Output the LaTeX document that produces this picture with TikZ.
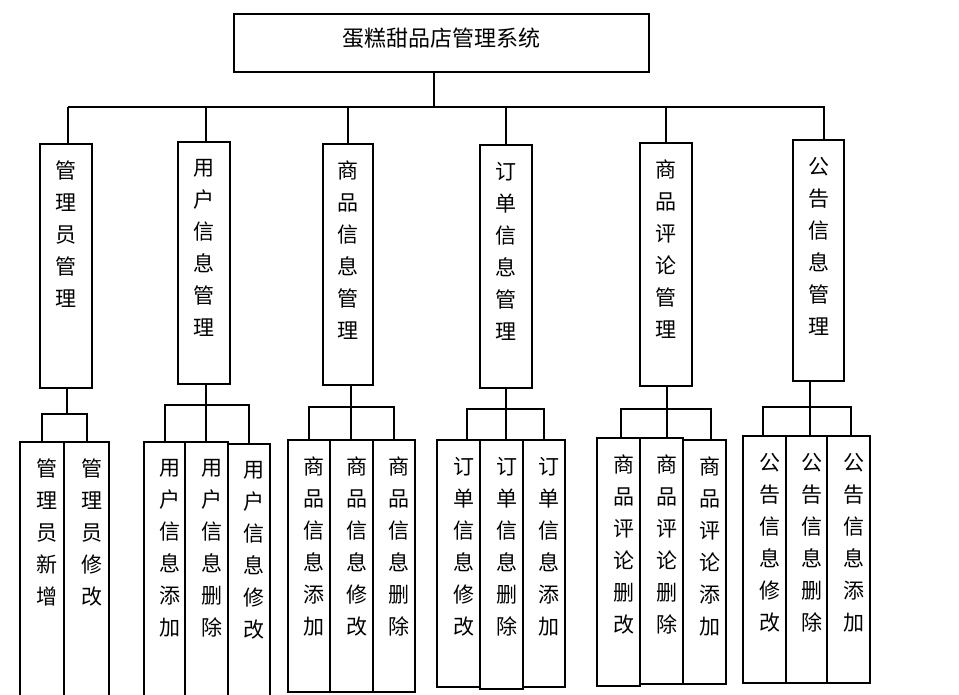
\documentclass[tikz,border=0pt]{standalone}
\usepackage{fontspec}
\newfontfamily\cjk{Noto Sans CJK SC}
\usetikzlibrary{positioning}
\tikzset{box/.style = {draw, line width=2pt, inner sep=0pt, outer sep=0pt, anchor=north west},
         vtext/.style = {font=\cjk\fontsize{21}{32}\selectfont, align=center,
                         inner sep=0pt, anchor=north, yshift=-16pt},
         stext/.style = {vtext, xshift=5pt}}

\begin{document}
\begin{tikzpicture}[x=1pt, y=-1pt, line width=2pt]
    \clip (0, 0) rectangle (959, 694);

    % top box
    \node [box, minimum width=415pt, minimum height=58pt,
           label={[font=\cjk\fontsize{22}{26}\selectfont, inner sep=0pt, yshift=5pt]center:蛋糕甜品店管理系统}]
          (sys) at (234, 14) {};

    % second level
    \node [box, minimum width=52pt, minimum height=244pt,
           label={[vtext]north:管\\理\\员\\管\\理}] (m1) at (40, 144) {};
    \node [box, minimum width=52pt, minimum height=242pt,
           label={[vtext]north:用\\户\\信\\息\\管\\理}] (m2) at (178, 142) {};
    \node [box, minimum width=50pt, minimum height=241pt,
           label={[vtext]north:商\\品\\信\\息\\管\\理}] (m3) at (323, 144) {};
    \node [box, minimum width=52pt, minimum height=243pt,
           label={[vtext]north:订\\单\\信\\息\\管\\理}] (m4) at (480, 145) {};
    \node [box, minimum width=52pt, minimum height=243pt,
           label={[vtext]north:商\\品\\评\\论\\管\\理}] (m5) at (640, 143) {};
    \node [box, minimum width=51pt, minimum height=241pt,
           label={[vtext]north:公\\告\\信\\息\\管\\理}] (m6) at (793, 140) {};

    % third level
    \node [box, minimum width=44pt, minimum height=258pt,
           label={[stext]north:管\\理\\员\\新\\增}] (a1) at (20, 442) {};
    \node [box, minimum width=45pt, minimum height=258pt,
           label={[stext]north:管\\理\\员\\修\\改}] (a2) at (64, 442) {};

    \node [box, minimum width=41pt, minimum height=258pt,
           label={[stext]north:用\\户\\信\\息\\添\\加}] (b1) at (144, 442) {};
    \node [box, minimum width=43pt, minimum height=258pt,
           label={[stext]north:用\\户\\信\\息\\删\\除}] (b2) at (185, 442) {};
    \node [box, minimum width=42pt, minimum height=256pt,
           label={[stext]north:用\\户\\信\\息\\修\\改}] (b3) at (228, 444) {};

    \node [box, minimum width=42pt, minimum height=252pt,
           label={[stext]north:商\\品\\信\\息\\添\\加}] (c1) at (288, 440) {};
    \node [box, minimum width=43pt, minimum height=252pt,
           label={[stext]north:商\\品\\信\\息\\修\\改}] (c2) at (330, 440) {};
    \node [box, minimum width=42pt, minimum height=252pt,
           label={[stext]north:商\\品\\信\\息\\删\\除}] (c3) at (373, 440) {};

    \node [box, minimum width=43pt, minimum height=247pt,
           label={[stext]north:订\\单\\信\\息\\修\\改}] (d1) at (437, 440) {};
    \node [box, minimum width=43pt, minimum height=249pt,
           label={[stext]north:订\\单\\信\\息\\删\\除}] (d2) at (480, 440) {};
    \node [box, minimum width=42pt, minimum height=247pt,
           label={[stext]north:订\\单\\信\\息\\添\\加}] (d3) at (523, 440) {};

    \node [box, minimum width=43pt, minimum height=248pt,
           label={[stext]north:商\\品\\评\\论\\删\\改}] (e1) at (597, 438) {};
    \node [box, minimum width=43pt, minimum height=246pt,
           label={[stext]north:商\\品\\评\\论\\删\\除}] (e2) at (640, 438) {};
    \node [box, minimum width=43pt, minimum height=244pt,
           label={[stext]north:商\\品\\评\\论\\添\\加}] (e3) at (683, 440) {};

    \node [box, minimum width=43pt, minimum height=247pt,
           label={[stext]north:公\\告\\信\\息\\修\\改}] (f1) at (743, 436) {};
    \node [box, minimum width=41pt, minimum height=247pt,
           label={[stext]north:公\\告\\信\\息\\删\\除}] (f2) at (786, 436) {};
    \node [box, minimum width=43pt, minimum height=247pt,
           label={[stext]north:公\\告\\信\\息\\添\\加}] (f3) at (827, 436) {};

    % connectors from the top
    \coordinate (bus) at (434, 107);
    \draw ([xshift=-7.5pt]sys.south) -- (bus);
    \draw ([xshift=2pt]m1.north |- bus) -- ([xshift=6.5pt]m6.north |- bus);
    \foreach \m/\dx in {m1/2, m2/2, m3/0, m4/0, m5/0, m6/5.5}
        \draw ([xshift=\dx pt]\m.north) -- ([xshift=\dx pt]\m.north |- bus);

    % connectors to the third level
    \draw ([xshift=1pt]m1.south) -- ++(0, 26);
    \draw (a1.north) |- ([yshift=28pt]a2.north) -- (a2.north);

    \draw (b1.north) |- ([yshift=39pt]b3.north) -- (b3.north);
    \draw ([xshift=2pt]m2.south) -- ([xshift=2pt]m2.south |- b2.north);

    \draw (c1.north) |- ([yshift=33pt]c3.north) -- (c3.north);
    \draw ([xshift=3pt]m3.south) -- ([xshift=3pt]m3.south |- c2.north);

    \draw ([xshift=8pt]d1.north) |- ([yshift=31pt]d3.north) -- (d3.north);
    \draw (m4.south) -- (m4.south |- d2.north);

    \draw ([xshift=2pt]e1.north) |- ([xshift=6pt, yshift=31pt]e3.north) -- ([xshift=6pt]e3.north);
    \draw ([xshift=1pt]m5.south) -- ([xshift=1pt]m5.south |- e2.north);

    \draw ([xshift=-1.5pt]f1.north) |- ([xshift=2.5pt, yshift=29pt]f3.north) -- ([xshift=2.5pt]f3.north);
    \draw ([xshift=-8.5pt]m6.south) -- ([xshift=-8.5pt]m6.south |- f2.north);
\end{tikzpicture}
\end{document}
